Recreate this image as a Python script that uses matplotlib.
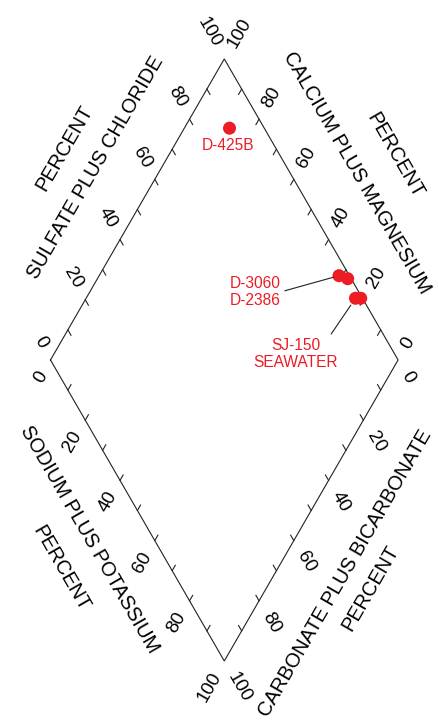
import matplotlib
matplotlib.use('Agg')
import matplotlib.pyplot as plt
import numpy as np

# Piper diamond, percent of anions and cations

sample_names = ['D-425B', 'D-3060', 'D-2386', 'SJ-150', 'SEAWATER']
so4_cl = [90, 97, 99, 98, 99.5]      # sulfate plus chloride, percent
ca_mg = [87, 31, 28, 22.5, 21]       # calcium plus magnesium, percent

tick_labels = [0, 20, 40, 60, 80, 100]
tick_marks = [10, 20, 30, 40, 50, 60, 70, 80, 90]

edge_titles = ['SULFATE PLUS CHLORIDE', 'CALCIUM PLUS MAGNESIUM',
               'SODIUM PLUS POTASSIUM', 'CARBONATE PLUS BICARBONATE']

RED = '#ed1c24'
H = np.sqrt(3) / 2

plt.rcParams['font.family'] = ['Liberation Sans', 'DejaVu Sans']


def diamond_xy(a, c):
    a = np.asarray(a, float)
    c = np.asarray(c, float)
    return 0.5 * (a - c), H * (a + c)


# each edge: value -> (a, c), outward grid direction, outward normal,
# tick label rotation / alignment, title rotation, title (t, n), percent (t, n)
edges = [
    dict(ac=lambda v: (v, 100.0), grid=(-0.5, H), normal=(-H, 0.5),
         rot=-60, ha='right', trot=60, title=(54.4, 16.5), pct=(54.7, 27.0)),
    dict(ac=lambda v: (100.0, v), grid=(0.5, H), normal=(H, 0.5),
         rot=60, ha='left', trot=-60, title=(52.5, 16.7), pct=(51.4, 28.5)),
    dict(ac=lambda v: (0.0, 100.0 - v), grid=(-0.5, -H), normal=(-H, -0.5),
         rot=60, ha='right', trot=-60, title=(50.4, 16.0), pct=(53.4, 27.2)),
    dict(ac=lambda v: (100.0 - v, 0.0), grid=(0.5, -H), normal=(H, -0.5),
         rot=-60, ha='left', trot=60, title=(60.7, 17.4), pct=(60.8, 25.8)),
]

fig = plt.figure(figsize=(4.39, 7.21), dpi=100)
ax = fig.add_axes([0, 0, 1, 1])
ax.set_xlim(-64.53, 61.77)
ax.set_ylim(-17.26, 190.16)
ax.axis('off')

# outline
corners_a = [0, 100, 100, 0, 0]
corners_c = [100, 100, 0, 0, 100]
ox, oy = diamond_xy(corners_a, corners_c)
ax.plot(ox, oy, color='#222222', lw=0.8, solid_joinstyle='miter')

tick_len = 1.8
label_gap = 4.2
for e in edges:
    gx, gy = e['grid']
    for v in tick_marks:
        x0, y0 = diamond_xy(*e['ac'](v))
        ax.plot([x0, x0 - gx * tick_len], [y0, y0 - gy * tick_len],
                color='#222222', lw=0.8)
    for v in tick_labels:
        x0, y0 = diamond_xy(*e['ac'](v))
        ax.text(x0 + gx * label_gap, y0 + gy * label_gap, str(v),
                rotation=e['rot'], rotation_mode='anchor',
                ha=e['ha'], va='center', fontsize=13.6)

for e, title in zip(edges, edge_titles):
    nx, ny = e['normal']
    for (t, n), s in [(e['title'], title), (e['pct'], 'PERCENT')]:
        x0, y0 = diamond_xy(*e['ac'](t))
        ax.text(x0 + nx * n, y0 + ny * n, s, rotation=e['trot'],
                rotation_mode='anchor', ha='center', va='center',
                fontsize=14.4)

# samples
px, py = diamond_xy(so4_cl, ca_mg)
ax.scatter(px, py, s=88, color=RED, edgecolors='none', zorder=3)

ax.annotate(sample_names[0], (px[0], py[0]), xytext=(-1.4, -12.5),
            textcoords='offset points', ha='center', va='center',
            color=RED, fontsize=11.2)
ax.annotate(sample_names[1] + '\n' + sample_names[2], (px[1], py[1]),
            xytext=(-42, -11.7), textcoords='offset points',
            ha='right', va='center', multialignment='right',
            color=RED, fontsize=11.2, linespacing=1.15,
            arrowprops=dict(arrowstyle='-', color='#222222', lw=0.8,
                            relpos=(1.0, 0.5), shrinkA=1, shrinkB=4))
ax.annotate(sample_names[3] + '\n' + sample_names[4], (px[3], py[3]),
            xytext=(-43.2, -40), textcoords='offset points',
            ha='center', va='center', multialignment='center',
            color=RED, fontsize=11.2, linespacing=1.15,
            arrowprops=dict(arrowstyle='-', color='#222222', lw=0.8,
                            relpos=(0.87, 0.92), shrinkA=1, shrinkB=6))

fig.savefig('out.png', dpi=100)
